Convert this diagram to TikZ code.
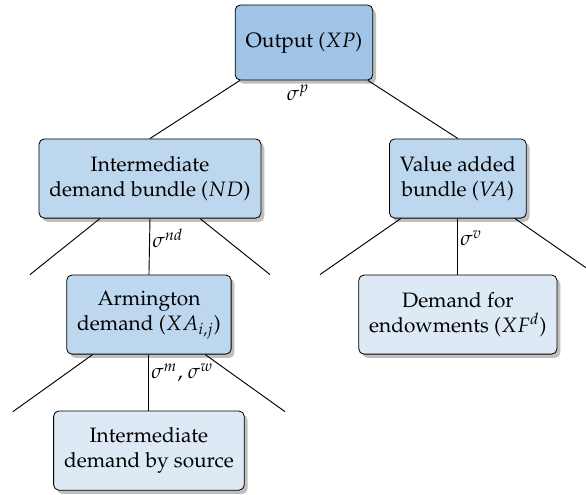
\documentclass[tikz,border=0pt]{standalone}
\usepackage[T1]{fontenc}
\usepackage{mathpazo}
\usepackage{tikz}
\usetikzlibrary{shadows}

\definecolor{topblue}{RGB}{160,196,230}
\definecolor{midblue}{RGB}{189,215,238}
\definecolor{lowblue}{RGB}{221,233,245}

\begin{document}
\begin{tikzpicture}[node distance=65.3pt]
	\tikzstyle{nest} = [rectangle, rounded corners=2.5pt, align=center, 
	minimum height=38pt, inner xsep=5pt, draw=black, fill=midblue, 
	drop shadow={shadow xshift=1.6pt, shadow yshift=-1.8pt, fill=black, opacity=0.25}]
	\tikzstyle{leaf} = [nest, fill=lowblue]
	\tikzstyle{branch} = [line width=0.45pt]
	\tikzstyle{elast} = [anchor=west, inner sep=1pt]
	\useasboundingbox (0,0) rectangle (281.3pt,-237.6pt);
	\node (output) [nest, fill=topblue, minimum height=36pt] at (145.9pt,-20.4pt) {Output ($XP$)};
	\node (nd) [nest, below of=output, xshift=-73.9pt] {Intermediate\\demand bundle ($ND$)};
	\node (va) [nest, below of=output, xshift=73.9pt] {Value added\\bundle ($VA$)};
	\node (xa) [nest, below of=nd, xshift=-0.5pt] {Armington\\demand ($XA_{i,j}$)};
	\node (xf) [leaf, below of=va] {Demand for\\endowments ($XF^d$)};
	\node (src) [leaf, below of=xa] {Intermediate\\demand by source};
	% elasticities
	\node (sigp) at ([shift={(-2.8pt,-6pt)}]output.south) {$\sigma^p$};
	\node (signd) [elast] at ([yshift=-9.5pt]nd.south) {$\sigma^{nd}$};
	\node (sigv) [elast] at ([yshift=-9.5pt]va.south) {$\sigma^{v}$};
	\node (sigmw) [elast] at ([yshift=-8.8pt]xa.south) {$\sigma^m$, $\sigma^w$};
	% free ends of the fans
	\coordinate (ndL) at ([shift={(-57.6pt,-26.9pt)}]nd.south);
	\coordinate (ndR) at ([shift={(57.6pt,-26.9pt)}]nd.south);
	\coordinate (vaL) at ([shift={(-66.2pt,-26.9pt)}]va.south);
	\coordinate (vaR) at ([shift={(66.2pt,-26.9pt)}]va.south);
	\coordinate (xaL) at ([shift={(-65.3pt,-27.4pt)}]xa.south);
	\coordinate (xaR) at ([shift={(65.3pt,-27.4pt)}]xa.south);
	\draw [branch] ([xshift=-30.7pt]output.south) -- (nd.north);
	\draw [branch] ([xshift=30.7pt]output.south) -- (va.north);
	\draw [branch] ([xshift=-24pt]nd.south) -- (ndL);
	\draw [branch] ([xshift=24pt]nd.south) -- (ndR);
	\draw [branch] (nd.south) -- (xa.north);
	\draw [branch] ([xshift=-27.4pt]va.south) -- (vaL);
	\draw [branch] ([xshift=27.4pt]va.south) -- (vaR);
	\draw [branch] (va.south) -- (xf.north);
	\draw [branch] ([xshift=-27pt]xa.south) -- (xaL);
	\draw [branch] ([xshift=27pt]xa.south) -- (xaR);
	\draw [branch] (xa.south) -- (src.north);
\end{tikzpicture}
\end{document}
